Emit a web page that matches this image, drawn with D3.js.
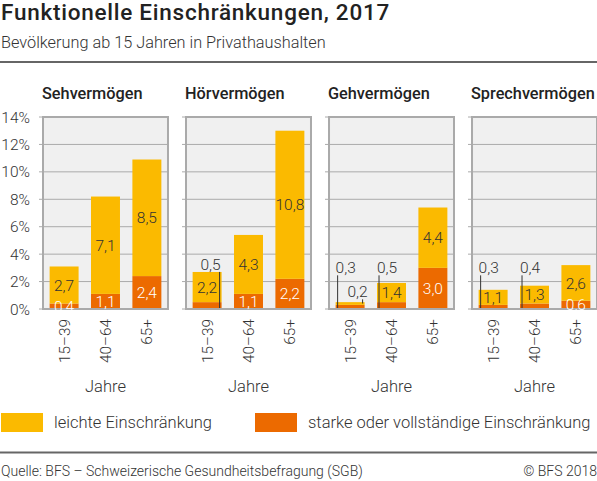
<!DOCTYPE html>
<html>
<head>
<meta charset="utf-8">
<script src="https://cdn.jsdelivr.net/npm/d3@7"></script>
<style>
  body { margin: 0; background: #fff; }
  svg { font-family: Roboto, "Noto Sans", sans-serif; display: block; }
  .light { font-weight: 300; }
</style>
</head>
<body>
<svg id="chart" width="597" height="481"></svg>
<script>
// ---------------------------------------------
//  Data
// ---------------------------------------------
const panels = ["Sehvermögen", "Hörvermögen", "Gehvermögen", "Sprechvermögen"];
const ageGroups = ["15–39", "40–64", "65+"];
const severeValues = [
  [0.4, 1.1, 2.4],
  [0.5, 1.1, 2.2],
  [0.3, 0.5, 3.0],
  [0.3, 0.4, 0.6]
];
const lightValues = [
  [2.7, 7.1, 8.5],
  [2.2, 4.3, 10.8],
  [0.2, 1.4, 4.4],
  [1.1, 1.3, 2.6]
];
const yTicks = [0, 2, 4, 6, 8, 10, 12, 14];
const seriesNames = ["leichte Einschränkung", "starke oder vollständige Einschränkung"];

// labels that sit outside the bar with a leader line
// (panel, age group, series, side of leader line, label height in %)
const callouts = [
  { panel: 1, age: 0, series: "severe", side: "right", at: 2.85 },
  { panel: 2, age: 0, series: "severe", side: "left", at: 2.6 },
  { panel: 2, age: 0, series: "light", side: "right", at: 0.85 },
  { panel: 2, age: 1, series: "severe", side: "left", at: 2.6 },
  { panel: 3, age: 0, series: "severe", side: "left", at: 2.6 },
  { panel: 3, age: 1, series: "severe", side: "left", at: 2.6 }
];

const colors = { light: "#fbba00", severe: "#ec6a00" };
const fmt = v => d3.format(".1f")(v).replace(".", ",");

// ---------------------------------------------
//  Layout
// ---------------------------------------------
const svg = d3.select("#chart");

const panelScale = d3.scaleBand().domain(panels).range([43, 597]).paddingInner(0.126);
const pw = panelScale.bandwidth();
const y = d3.scaleLinear().domain([0, 14]).range([309, 117]);
const x = d3.scaleBand().domain(ageGroups).range([0, pw]).paddingInner(0.3).paddingOuter(0.16);

// title block
svg.append("text").attr("x", 1).attr("y", 20)
  .attr("font-size", 22.5).attr("font-weight", 500).attr("fill", "#222")
  .attr("letter-spacing", 0.75)
  .text("Funktionelle Einschränkungen, 2017");
svg.append("text").attr("class", "light").attr("x", 1).attr("y", 48)
  .attr("font-size", 16.3).attr("fill", "#333")
  .text("Bevölkerung ab 15 Jahren in Privathaushalten");
svg.append("line").attr("x1", 0).attr("x2", 597).attr("y1", 62).attr("y2", 62)
  .attr("stroke", "#333").attr("stroke-width", 1.5);

// y axis labels
svg.append("g").selectAll("text").data(yTicks).join("text")
  .attr("class", "light")
  .attr("x", 30).attr("y", d => y(d))
  .attr("dy", "0.36em").attr("text-anchor", "end")
  .attr("font-size", 15.5).attr("fill", "#333")
  .text(d => d + "%");

// ---------------------------------------------
//  Panels
// ---------------------------------------------
panels.forEach((name, p) => {
  const g = svg.append("g").attr("transform", `translate(${panelScale(name)},0)`);

  g.append("text").attr("x", -1).attr("y", 99)
    .attr("font-size", 16.3).attr("font-weight", 500).attr("fill", "#222")
    .text(name);

  g.append("rect").attr("x", 0).attr("y", y(14)).attr("width", pw).attr("height", y(0) - y(14))
    .attr("fill", "#f0f0f0");

  g.selectAll(".grid").data(yTicks).join("line")
    .attr("class", "grid")
    .attr("x1", -4).attr("x2", pw)
    .attr("y1", d => y(d)).attr("y2", d => y(d))
    .attr("stroke", "#aaa").attr("stroke-width", 1);

  const rows = ageGroups.map((a, i) => ({
    age: a, i,
    severe: severeValues[p][i],
    light: lightValues[p][i]
  }));

  // stacked bars: severe at the bottom, light on top
  g.selectAll(".sev").data(rows).join("rect")
    .attr("x", d => x(d.age)).attr("width", x.bandwidth())
    .attr("y", d => y(d.severe)).attr("height", d => y(0) - y(d.severe))
    .attr("fill", colors.severe);
  g.selectAll(".lig").data(rows).join("rect")
    .attr("x", d => x(d.age)).attr("width", x.bandwidth())
    .attr("y", d => y(d.severe + d.light)).attr("height", d => y(d.severe) - y(d.severe + d.light))
    .attr("fill", colors.light);

  // frame
  g.append("rect").attr("x", 0).attr("y", y(14)).attr("width", pw).attr("height", y(0) - y(14))
    .attr("fill", "none").attr("stroke", "#aaa").attr("stroke-width", 2);

  // value labels
  rows.forEach(d => {
    ["severe", "light"].forEach(s => {
      const c = callouts.find(k => k.panel === p && k.age === d.i && k.series === s);
      const lo = s === "severe" ? 0 : d.severe;
      const hi = lo + d[s];
      if (c) {
        const lx = c.side === "left" ? x(d.age) + 2 : x(d.age) + x.bandwidth() - 2;
        const ly = y(c.at);
        const endY = s === "severe" ? y(0) - 1 : y((lo + hi) / 2);
        g.append("line").attr("x1", lx).attr("x2", lx).attr("y1", ly + 2).attr("y2", endY)
          .attr("stroke", "#333").attr("stroke-width", 1);
        g.append("text").attr("class", "light")
          .attr("x", c.side === "left" ? lx - 2 : lx + (s === "light" ? 5 : 1))
          .attr("y", ly)
          .attr("text-anchor", c.side === "left" ? "start" : "end")
          .attr("font-size", 15.5).attr("fill", "#333")
          .text(fmt(d[s]));
      } else {
        g.append("text").attr("class", "light")
          .attr("x", x(d.age) + x.bandwidth() / 2)
          .attr("y", y((lo + hi) / 2)).attr("dy", "0.36em")
          .attr("text-anchor", "middle")
          .attr("font-size", 15.5).attr("fill", s === "severe" ? "#fff" : "#333")
          .text(fmt(d[s]));
      }
    });
  });

  // rotated age labels
  g.selectAll(".age").data(ageGroups).join("text")
    .attr("class", "light")
    .attr("transform", d => `translate(${x(d) + x.bandwidth() / 2},319) rotate(-90)`)
    .attr("dy", "0.36em").attr("text-anchor", "end")
    .attr("font-size", 15.3).attr("fill", "#333")
    .text(d => d);

  g.append("text").attr("class", "light")
    .attr("x", pw / 2).attr("y", 392).attr("text-anchor", "middle")
    .attr("font-size", 16.5).attr("fill", "#333")
    .text("Jahre");
});

// ---------------------------------------------
//  Legend + footer
// ---------------------------------------------
const legendX = [1, 255];
const legend = svg.append("g").selectAll("g").data(seriesNames).join("g")
  .attr("transform", (d, i) => `translate(${legendX[i]},413)`);
legend.append("rect").attr("width", 42).attr("height", 19)
  .attr("fill", (d, i) => i === 0 ? colors.light : colors.severe);
legend.append("text").attr("class", "light")
  .attr("x", 53).attr("y", 9.5).attr("dy", "0.36em")
  .attr("font-size", 16.5).attr("fill", "#333")
  .text(d => d);

svg.append("line").attr("x1", 0).attr("x2", 597).attr("y1", 452.5).attr("y2", 452.5)
  .attr("stroke", "#666").attr("stroke-width", 2);
svg.append("text").attr("class", "light").attr("x", 1).attr("y", 476)
  .attr("font-size", 14).attr("fill", "#333")
  .text("Quelle: BFS – Schweizerische Gesundheitsbefragung (SGB)");
svg.append("text").attr("class", "light").attr("x", 597).attr("y", 476)
  .attr("text-anchor", "end").attr("font-size", 14).attr("fill", "#333")
  .text("© BFS 2018");
</script>
</body>
</html>
